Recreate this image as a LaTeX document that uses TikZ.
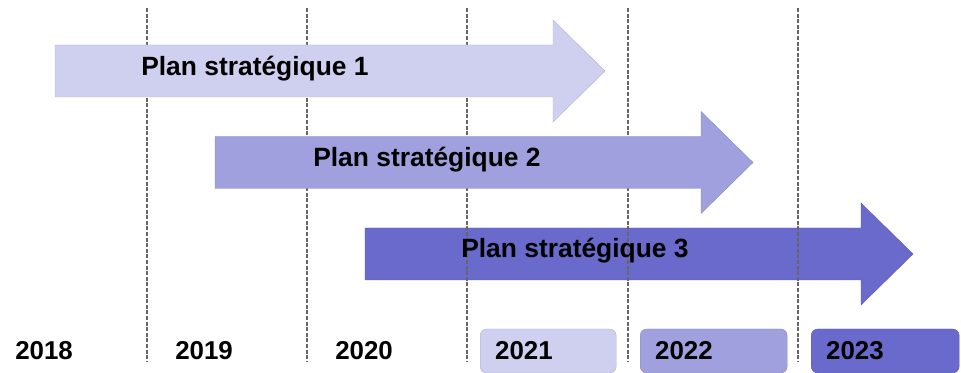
\documentclass[tikz,border=0pt]{standalone}
\usepackage{fontspec}
\setmainfont{Liberation Sans}
\usetikzlibrary{positioning}
\definecolor{PlanA}{HTML}{CFD0EF}
\definecolor{PlanB}{HTML}{A0A0DE}
\definecolor{PlanC}{HTML}{6A6ACC}
\definecolor{GridGray}{HTML}{666666}
% arrow: left end, middle y, tip x, colour
\newcommand{\planarrow}[4]{%
  \filldraw[#4,draw=#4!85!black,line width=0.3pt]
    (#1,#2-26) -- (#3-52,#2-26) -- (#3-52,#2-51) -- (#3,#2)
    -- (#3-52,#2+51) -- (#3-52,#2+26) -- (#1,#2+26) -- cycle;}

\begin{document}
\begin{tikzpicture}[x=0.75pt,y=-0.75pt,
  gridline/.style={GridGray,line width=1.2pt,dash pattern=on 3pt off 1.2pt},
  planlabel/.style={font=\fontsize{19.8}{23}\selectfont\bfseries,anchor=base west,inner sep=0pt},
  yearbox/.style={font=\fontsize{19.4}{23}\selectfont\bfseries,anchor=west,
    minimum height=33pt,inner xsep=11.25pt,align=left,rounded corners=5pt}]
  \useasboundingbox (0,0) rectangle (961,373);

  \planarrow{365}{254}{913}{PlanC}
  \foreach \x in {147,307,467,628,798}
    \draw[gridline] (\x,8) -- (\x,362);
  \planarrow{55}{71}{605}{PlanA}
  \planarrow{215}{162.5}{753}{PlanB}

  \node[planlabel] (plan1) at (141,76) {Plan stratégique 1};
  \node[planlabel] (plan2) at (313,167) {Plan stratégique 2};
  \node[planlabel] (plan3) at (461,258) {Plan stratégique 3};

  \node[yearbox,text width=79.5pt] (y2018) at (0,351) {2018};
  \node[yearbox,text width=79.5pt] (y2019) at (160,351) {2019};
  \node[yearbox,text width=79.5pt] (y2020) at (320,351) {2020};
  \node[yearbox,text width=79.5pt,fill=PlanA,draw=PlanA!85!black,line width=0.3pt] (y2021) at (480,351) {2021};
  \node[yearbox,text width=87.75pt,fill=PlanB,draw=PlanB!85!black,line width=0.3pt] (y2022) at (640,351) {2022};
  \node[yearbox,text width=88.5pt,fill=PlanC,draw=PlanC!85!black,line width=0.3pt] (y2023) at (811,351) {2023};
\end{tikzpicture}
\end{document}
